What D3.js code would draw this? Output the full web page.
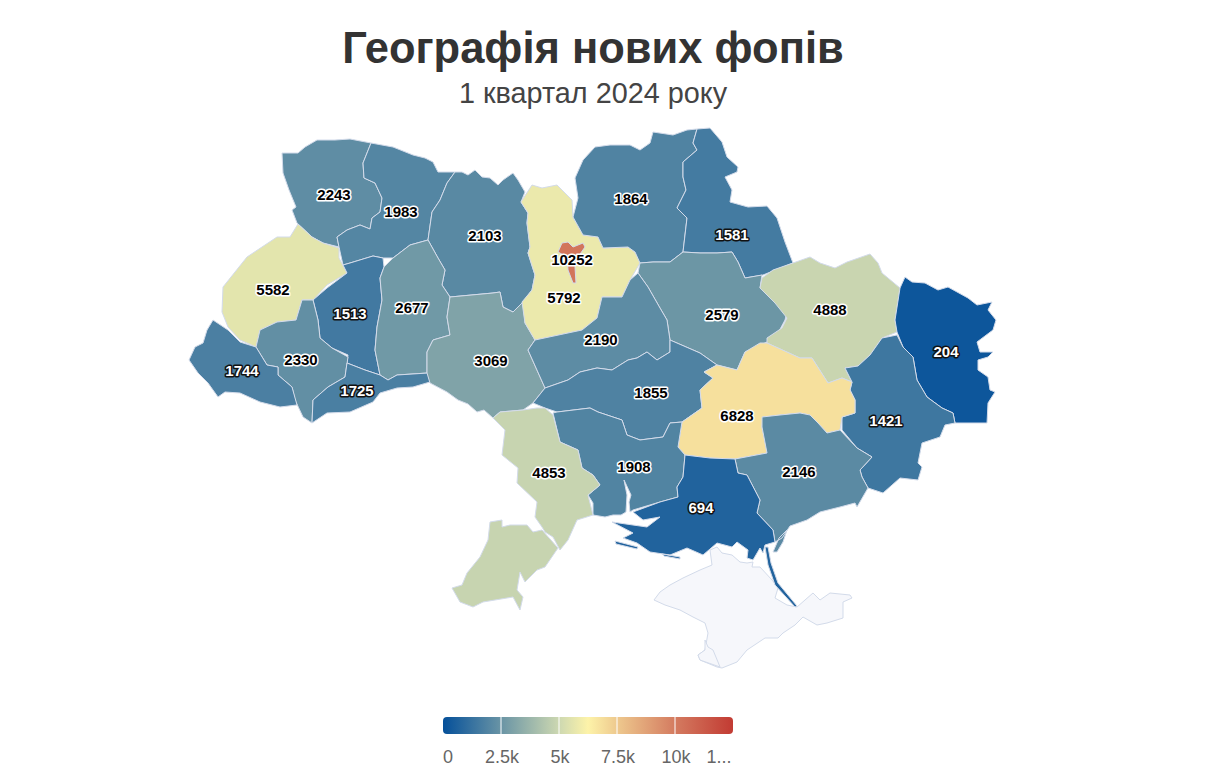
<!DOCTYPE html>
<html>
<head>
<meta charset="utf-8">
<title>Географія нових фопів</title>
<script src="https://cdn.jsdelivr.net/npm/d3@7"></script>
<style>
    html, body { margin: 0; padding: 0; background: #fff; }
    svg { display: block; font-family: "Liberation Sans", Arial, sans-serif; }
</style>
</head>
<body>
<svg id="chart" width="1217" height="768"></svg>
<script>
const chartTitle = 'Географія нових фопів';
const chartSubtitle = '1 квартал 2024 року';

const regionNames = ['Volyn', 'Rivne', 'Zhytomyr', 'Lviv', 'Ternopil', 'Khmelnytskyi', 'Ivano-Frankivsk', 'Zakarpattia',
    'Chernivtsi', 'Vinnytsia', 'Kyiv oblast', 'Kyiv', 'Chernihiv', 'Sumy', 'Poltava', 'Cherkasy', 'Kirovohrad', 'Kharkiv',
    'Luhansk', 'Donetsk', 'Dnipropetrovsk', 'Zaporizhzhia', 'Mykolaiv', 'Kherson', 'Odesa'];
const regionValues = [2243, 1983, 2103, 5582, 1513, 2677, 2330, 1744,
    1725, 3069, 5792, 10252, 1864, 1581, 2579, 2190, 1855, 4888,
    204, 1421, 6828, 2146, 1908, 694, 4853];

// map outlines, one string per ring (map units)
const regionOutlines = [
    ['282,153 298,153 305,147 317,140 335,140 350,139 371,143 363,163 364,178 375,183 382,198 380,212 372,218 370,229 360,225 347,230 337,237 339,247 323,243 312,237 297,223 292,210 296,207 289,190 283,173'],
    ['371,143 393,147 413,155 425,158 433,162 438,172 455,172 447,183 440,200 432,212 428,240 410,245 393,258 383,258 373,256 350,263 343,265 339,247 337,237 347,230 360,225 370,229 372,218 380,212 382,198 375,183 364,178 363,163'],
    ['455,172 462,172 468,175 475,170 482,177 490,178 498,185 503,180 513,173 518,180 525,192 521,202 528,213 527,223 530,247 528,253 535,275 532,290 523,302 513,312 503,307 500,292 493,293 450,297 442,285 445,270 438,258 428,240 432,212 440,200 447,183'],
    ['298,224 312,237 323,243 339,248 339,258 347,273 327,285 313,300 302,300 296,320 277,322 260,330 256,347 240,340 228,327 222,312 223,287 247,257 277,237 290,237'],
    ['350,263 373,256 383,258 384,267 380,278 382,300 377,327 375,350 380,375 365,370 347,363 348,355 332,348 320,338 318,320 313,300 327,288 347,273 343,265'],
    ['428,240 438,258 445,270 442,285 450,297 447,317 450,335 433,340 427,352 427,373 397,375 388,380 380,375 375,350 377,327 382,300 380,278 384,267 393,258 410,245'],
    ['302,300 313,300 318,320 320,338 332,348 348,357 345,377 328,387 313,400 312,423 303,417 295,400 292,387 278,375 278,367 267,365 256,347 260,330 277,322 296,320'],
    ['213,320 228,330 240,342 256,347 267,365 278,367 278,375 292,387 297,405 280,407 260,402 240,393 225,392 218,397 208,383 198,373 189,360 195,347 203,343 207,330'],
    ['347,363 365,370 380,375 388,380 397,375 428,373 430,382 413,387 397,388 380,393 373,402 350,412 327,413 312,423 313,400 328,387 345,377'],
    ['450,297 493,293 500,292 503,307 513,312 523,302 525,323 535,340 528,350 545,388 533,403 523,410 500,412 493,418 484,410 477,412 468,404 458,400 447,392 430,383 427,373 427,352 433,340 450,335 447,317'],
    ['532,185 542,188 557,185 572,200 573,217 583,235 598,237 603,248 628,247 635,252 640,263 630,280 622,297 602,297 597,318 582,330 550,337 535,340 525,323 522,302 532,290 535,275 528,253 530,247 527,223 528,213 521,202'],
    ['562,243 568,242 573,247 583,243 585,247 578,257 575,267 576,283 573,283 568,270 567,257 558,252'],
    ['595,147 610,145 630,145 640,150 650,143 653,132 673,135 687,130 697,129 693,143 697,150 683,162 683,177 686,190 677,208 687,218 683,252 670,262 653,262 640,263 635,252 628,247 603,248 598,237 583,235 573,217 578,198 575,178 583,160'],
    ['697,129 710,128 722,142 727,157 738,167 737,172 725,177 732,190 730,202 748,207 767,206 777,218 785,242 793,263 763,275 745,278 738,262 732,252 717,253 700,253 683,252 687,218 677,208 686,190 683,177 683,162 697,150 693,143'],
    ['640,263 653,262 670,262 683,252 700,253 717,253 732,252 738,262 745,278 762,275 760,288 777,300 787,312 785,320 778,333 767,342 745,352 737,370 717,365 700,353 670,340 667,320 660,308 648,287 638,273'],
    ['638,273 648,287 660,308 667,320 670,340 670,352 657,360 647,352 637,358 628,360 612,370 597,368 580,372 568,380 545,388 528,350 535,340 582,330 597,318 602,297 622,297 630,280'],
    ['670,340 700,353 717,365 704,372 713,378 700,390 702,408 682,422 670,423 663,437 640,440 627,435 622,420 598,412 590,408 557,412 545,408 533,403 545,388 568,380 580,372 597,368 612,370 628,360 637,358 647,352 657,360 670,352'],
    ['762,278 773,270 793,263 810,257 820,263 835,268 847,262 870,254 878,263 882,273 900,288 895,320 897,332 882,338 870,355 858,366 845,368 852,382 842,378 828,383 812,358 800,358 767,343 767,338 782,328 787,318 775,303 760,288'],
    ['905,277 912,282 925,283 938,290 948,287 968,298 977,305 992,302 988,310 996,320 993,330 977,342 980,352 993,352 988,357 978,360 978,370 988,377 990,390 995,392 988,403 987,423 955,423 953,413 942,408 927,397 917,380 913,357 903,347 897,332 895,320 900,288'],
    ['882,338 897,335 903,347 913,357 917,380 927,397 942,408 953,413 955,423 945,425 940,437 922,443 918,463 922,467 918,480 900,478 883,493 868,488 862,477 860,470 872,457 857,448 842,430 842,417 855,413 855,400 850,390 852,382 845,368 858,366 870,355'],
    ['760,343 767,343 800,358 812,358 828,383 842,378 852,382 850,390 855,400 855,413 842,417 840,430 827,433 818,423 810,415 800,413 780,415 763,417 762,427 767,453 735,459 710,458 685,455 678,447 682,422 702,408 700,390 713,378 704,372 717,365 737,370 745,352'],
    ['762,417 780,415 800,413 810,415 818,423 827,433 840,430 857,448 872,457 860,470 862,477 868,488 857,507 855,503 840,507 820,512 807,520 790,526 782,538 775,542 773,530 757,513 760,500 747,475 738,473 735,459 767,453 762,427', '773,552 779,538 787,530 783,542 777,552'],
    ['553,413 557,412 590,408 598,412 622,420 627,435 640,440 663,437 670,423 682,422 678,447 685,455 683,477 677,487 678,497 660,502 633,510 630,512 629,502 631,495 624,480 627,495 626,512 621,515 613,515 605,517 593,515 593,503 588,495 600,485 593,475 582,468 578,450 560,442'],
    ['685,455 710,458 735,459 738,473 747,475 760,500 757,513 773,530 775,542 765,545 763,553 760,548 753,560 747,558 748,550 737,542 732,547 717,543 703,555 687,548 670,555 650,552 637,543 623,538 633,533 612,522 647,527 660,517 643,520 633,512 660,502 678,497 677,487 683,477',
        '765,547 768,547 771,563 778,583 797,606 795,607 775,585 768,565', '615,541 638,547 637,549 616,544', '662,554 680,557 680,559 664,556'],
    ['493,418 500,412 523,410 537,408 545,408 553,415 560,442 578,450 582,468 593,475 600,485 588,495 593,515 577,520 568,540 560,550 553,537 545,532 542,527 535,517 537,502 517,483 518,468 502,455 505,430',
        '490,522 502,520 502,527 510,525 527,525 533,532 542,530 558,548 545,567 537,570 525,582 520,572 517,590 523,597 520,610 513,597 483,602 473,607 460,602 452,588 462,585 467,573 480,557 488,540']
];

// where each value label sits on the map (map units)
const labelAnchors = ['334,195', '401,212', '485,236', '273,290', '350,314', '412,308', '301,360', '242,371',
    '357,391', '491,361', '564,298', '572,260', '631,199', '732,235', '722,315', '601,340', '651,393', '830,310',
    '946,352', '886,421', '737,416', '799,472', '634,467', '701,508', '549,473'];

// Crimea has no value
const crimeaOutlines = [
    '710,550 717,547 722,553 732,555 740,562 747,563 753,562 752,567 760,567 772,580 778,588 775,598 787,605 797,607 813,593 820,600 830,593 850,595 852,598 843,602 843,618 827,623 817,625 803,617 795,625 783,633 778,638 765,638 747,650 737,662 722,668 717,667 700,660 698,655 705,650 708,633 705,623 693,617 680,610 665,605 654,600 660,592 670,585 683,578 700,570 712,565',
    '705,640 708,647 713,650 718,662 720,667 700,660 698,655 705,650'
];

const legendDomain = [0, 2500, 5000, 6250, 7500, 10000, 12500];
const legendColors = ['#05509a', '#6994a5', '#cdd8b1', '#fdf3a9', '#eec98e', '#d47b60', '#c23b33'];
const legendTicks = [0, 2500, 5000, 7500, 10000, 12500];
const legendTickLabels = ['0', '2.5k', '5k', '7.5k', '10k', '1...'];

const svg = d3.select('#chart');
const color = d3.scaleLinear().domain(legendDomain).range(legendColors);

const parseRing = (text) => {
    let ring = text.split(' ').map((p) => p.split(',').map(Number));
    ring.push(ring[0]);
    return ring;
};
const toFeature = (rings, props) => ({
    type: 'Feature',
    properties: props,
    geometry: { type: 'MultiPolygon', coordinates: rings.map((r) => [parseRing(r)]) }
});

let regions = regionOutlines.map((rings, i) => toFeature(rings, { name: regionNames[i], value: regionValues[i] }));
let crimea = crimeaOutlines.map((r) => toFeature([r], { name: 'Crimea', value: null }));
let features = crimea.concat(regions);

let projection = d3.geoIdentity().fitExtent([[189, 128], [996, 668]], { type: 'FeatureCollection', features: features });
let path = d3.geoPath(projection);

// title
svg.append('text')
    .attr('x', 593).attr('y', 63)
    .attr('text-anchor', 'middle')
    .attr('font-size', 43.5).attr('font-weight', 700)
    .attr('fill', '#333')
    .text(chartTitle);
svg.append('text')
    .attr('x', 593).attr('y', 103)
    .attr('text-anchor', 'middle')
    .attr('font-size', 28.8)
    .attr('fill', '#444')
    .text(chartSubtitle);

// map
svg.append('g')
    .selectAll('path')
    .data(features)
    .join('path')
    .attr('d', path)
    .attr('fill', (d) => d.properties.value === null ? '#f6f7fb' : color(d.properties.value))
    .attr('stroke', '#d3dbea')
    .attr('stroke-width', 1)
    .attr('stroke-linejoin', 'round');

// value labels
svg.append('g')
    .selectAll('text')
    .data(regionValues)
    .join('text')
    .attr('transform', (d, i) => `translate(${projection(labelAnchors[i].split(',').map(Number))})`)
    .attr('text-anchor', 'middle')
    .attr('dy', '0.36em')
    .attr('font-size', 15).attr('font-weight', 700)
    .attr('fill', (d) => d < 1750 ? '#fff' : '#000')
    .attr('stroke', (d) => d < 1750 ? '#111' : '#fff')
    .attr('stroke-width', 3)
    .attr('stroke-linejoin', 'round')
    .attr('paint-order', 'stroke')
    .text((d) => d);

// legend
let legendX = d3.scaleLinear().domain([0, 12500]).range([443, 733]);
let gradient = svg.append('defs').append('linearGradient').attr('id', 'legend-gradient');
gradient.selectAll('stop')
    .data(legendDomain)
    .join('stop')
    .attr('offset', (d) => d / 12500)
    .attr('stop-color', (d) => color(d));

svg.append('rect')
    .attr('x', legendX(0)).attr('y', 717)
    .attr('width', legendX(12500) - legendX(0)).attr('height', 17)
    .attr('rx', 4)
    .attr('fill', 'url(#legend-gradient)');

svg.append('g')
    .selectAll('line')
    .data(legendTicks.slice(1, -1))
    .join('line')
    .attr('x1', (d) => legendX(d)).attr('x2', (d) => legendX(d))
    .attr('y1', 717).attr('y2', 734)
    .attr('stroke', '#fff')
    .attr('stroke-width', 1);

svg.append('g')
    .selectAll('text')
    .data(legendTicks)
    .join('text')
    .attr('x', (d, i) => i === 0 ? legendX(d) + 5 : i === legendTicks.length - 1 ? legendX(d) - 14 : legendX(d) + 1)
    .attr('y', 763)
    .attr('text-anchor', 'middle')
    .attr('font-size', 18)
    .attr('fill', '#666')
    .text((d, i) => legendTickLabels[i]);
</script>
</body>
</html>
